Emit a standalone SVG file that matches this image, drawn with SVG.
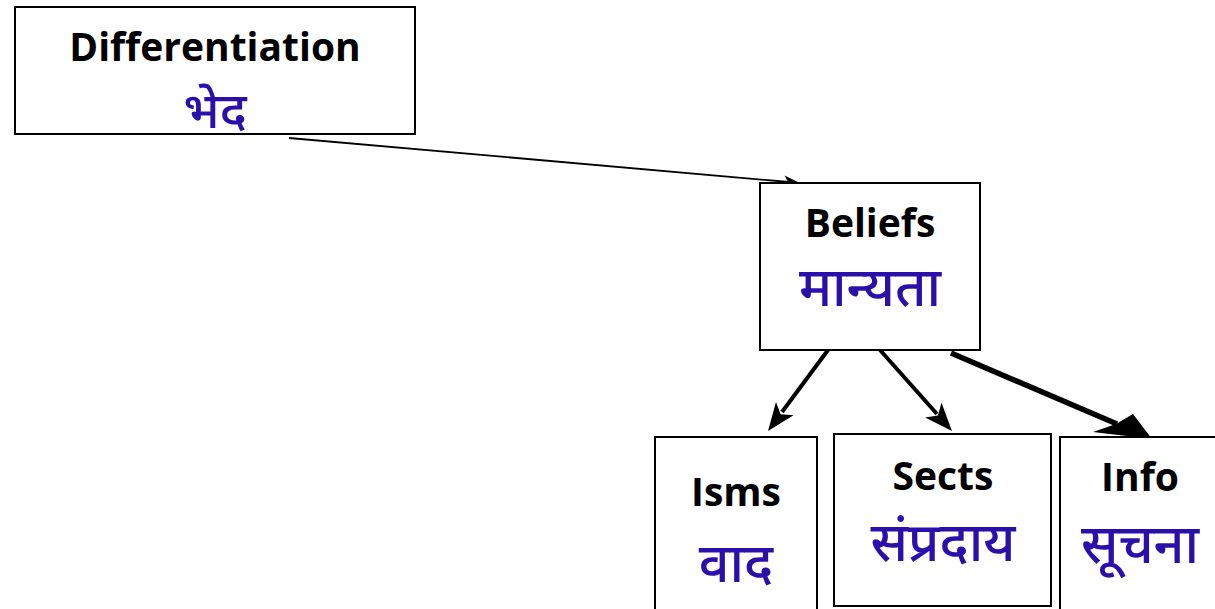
<svg xmlns="http://www.w3.org/2000/svg" width="1215" height="609" viewBox="0 0 1215 609">
<style>
.box{fill:#fff;stroke:#000;stroke-width:2}
.en{font-family:"Open Sans","Liberation Sans",sans-serif;font-weight:bold;fill:#000;text-anchor:middle}
.hi{font-family:"Noto Sans Devanagari","Noto Sans","Lohit Devanagari",sans-serif;fill:#2a0faa;text-anchor:middle;font-weight:500}
.c{stroke:#000;fill:none}
.h{fill:#000;stroke:none}
</style>
<rect width="1215" height="609" fill="#fff"/>
<g id="connectors">
<line class="c" x1="289" y1="138" x2="789" y2="182" stroke-width="1.8"/>
<polygon class="h" points="800,183 783.5,187.6 788,182 784.6,175.6"/>
<line class="c" x1="828" y1="350" x2="782" y2="412" stroke-width="4"/>
<polygon class="h" points="768,431 776,402 780.6,414.2 793.6,415.2"/>
<line class="c" x1="880" y1="350" x2="937" y2="414" stroke-width="4"/>
<polygon class="h" points="952,431 925.1,417.6 937.9,415.4 941.5,402.8"/>
<line class="c" x1="951" y1="353" x2="1117" y2="424" stroke-width="5.5"/>
<polygon class="h" points="1152,439 1093,432 1116,424 1133,414"/>
</g>
<g id="differentiation">
<rect class="box" x="15" y="7" width="400" height="127"/>
<text class="en" x="215" y="61" font-size="39">Differentiation</text>
<text class="hi" x="215" y="128" font-size="50">भेद</text>
</g>
<g id="beliefs">
<rect class="box" x="760" y="183" width="220" height="167"/>
<text class="en" x="870" y="237" font-size="39">Beliefs</text>
<text class="hi" x="870" y="306" font-size="54">मान्यता</text>
</g>
<g id="isms">
<rect class="box" x="655" y="437" width="162" height="180"/>
<text class="en" x="736" y="506" font-size="39">Isms</text>
<text class="hi" x="736" y="582" font-size="54">वाद</text>
</g>
<g id="sects">
<rect class="box" x="834" y="434" width="217" height="172"/>
<text class="en" x="943" y="490" font-size="39">Sects</text>
<text class="hi" x="943" y="561" font-size="54">संप्रदाय</text>
</g>
<g id="info">
<rect class="box" x="1060" y="437" width="170" height="180"/>
<text class="en" x="1140" y="491" font-size="39">Info</text>
<text class="hi" x="1140" y="563" font-size="54">सूचना</text>
</g>
</svg>
